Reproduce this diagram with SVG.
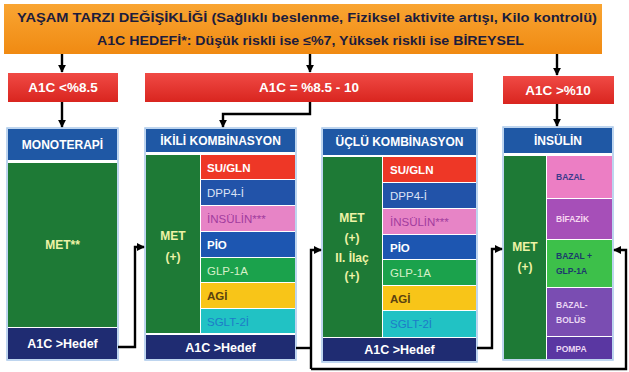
<svg xmlns="http://www.w3.org/2000/svg" width="629" height="372" viewBox="0 0 629 372">
  <defs>
    <linearGradient id="gOrange" x1="0" y1="0" x2="0" y2="1">
      <stop offset="0" stop-color="#F9A532"/>
      <stop offset="1" stop-color="#F08A12"/>
    </linearGradient>
    <linearGradient id="gRed" x1="0" y1="0" x2="0" y2="1">
      <stop offset="0" stop-color="#F04A45"/>
      <stop offset="1" stop-color="#D9251F"/>
    </linearGradient>
    <marker id="arrow" viewBox="0 0 10 10" refX="9" refY="5" markerWidth="3.4" markerHeight="3.4" orient="auto">
      <path d="M0,0 L10,5 L0,10 z" fill="#000"/>
    </marker>
  </defs>
  <style>
    text { font-family: "Liberation Sans", Arial, sans-serif; }
    .ban { font-size: 12.5px; font-weight: bold; fill: #1C1C3C; }
    .red { fill: url(#gRed); }
    .redt { font-size: 13.5px; font-weight: bold; fill: #FFFFFF; text-anchor: middle; }
    .frame { fill: #FFFFFF; stroke: #A9C8EA; stroke-width: 1.5; }
    .head { fill: #1F58A5; }
    .headt { font-size: 12px; font-weight: bold; fill: #FFFFFF; text-anchor: middle; }
    .met { fill: #1E7A36; }
    .mett { font-size: 12px; font-weight: bold; fill: #EEF3A6; text-anchor: middle; }
    .foot { fill: #1F2C72; }
    .foott { font-size: 12.5px; font-weight: bold; fill: #FFFFFF; text-anchor: middle; }
    .cell { font-size: 11.5px; }
    .ins { font-size: 8.5px; font-weight: bold; }
    .conn { fill: none; stroke: #000; stroke-width: 2.4; }
  </style>

  <!-- lifestyle banner -->
  <g id="banner">
    <rect x="4" y="4" width="598" height="50" fill="url(#gOrange)"/>
    <text class="ban" x="17" y="22" textLength="580" lengthAdjust="spacingAndGlyphs">YAŞAM TARZI DEĞİŞİKLİĞİ (Sağlıklı beslenme, Fiziksel aktivite artışı, Kilo kontrolü)</text>
    <text class="ban" x="97" y="45" textLength="427" lengthAdjust="spacingAndGlyphs">A1C HEDEFİ*: Düşük riskli ise ≤%7, Yüksek riskli ise BİREYSEL</text>
  </g>

  <!-- A1C range boxes -->
  <g id="range-low">
    <rect class="red" x="8" y="73" width="110" height="29"/>
    <text class="redt" x="63" y="92">A1C &lt;%8.5</text>
  </g>
  <g id="range-mid">
    <rect class="red" x="145" y="73" width="328" height="29"/>
    <text class="redt" x="309" y="92">A1C = %8.5 - 10</text>
  </g>
  <g id="range-high">
    <rect class="red" x="503" y="76" width="111" height="28"/>
    <text class="redt" x="558" y="95">A1C &gt;%10</text>
  </g>

  <!-- monotherapy column -->
  <g id="monoterapi">
    <rect class="frame" x="7" y="128" width="111" height="232"/>
    <rect class="head" x="8" y="129" width="109" height="31"/>
    <text class="headt" x="62.5" y="149">MONOTERAPİ</text>
    <rect class="met" x="8" y="163" width="109" height="164"/>
    <text class="mett" x="62.5" y="249">MET**</text>
    <rect class="foot" x="8" y="328" width="109" height="31"/>
    <text class="foott" x="62.5" y="348">A1C &gt;Hedef</text>
  </g>

  <!-- dual combination column -->
  <g id="ikili">
    <rect class="frame" x="145" y="128" width="151" height="232"/>
    <rect class="head" x="146" y="129" width="149" height="23"/>
    <text class="headt" x="220.5" y="144.5">İKİLİ KOMBİNASYON</text>
    <rect class="met" x="146" y="155" width="54" height="178"/>
    <text class="mett" x="173" y="240">MET</text>
    <text class="mett" x="173" y="261">(+)</text>
    <rect x="201" y="155" width="94" height="24" fill="#EE3726"/>
    <text class="cell" x="207" y="171.5" font-weight="bold" fill="#FFFFFF">SU/GLN</text>
    <rect x="201" y="180" width="94" height="25" fill="#2253A9"/>
    <text class="cell" x="207" y="197" fill="#DCE2F5">DPP4-İ</text>
    <rect x="201" y="206" width="94" height="25" fill="#E784C6"/>
    <text class="cell" x="207" y="223" fill="#A23C9E">İNSÜLİN***</text>
    <rect x="201" y="232" width="94" height="25" fill="#1D56B1"/>
    <text class="cell" x="207" y="249" font-weight="bold" fill="#FFFFFF">PİO</text>
    <rect x="201" y="258" width="94" height="24" fill="#1BA24C"/>
    <text class="cell" x="207" y="274.5" fill="#D6F0C8">GLP-1A</text>
    <rect x="201" y="283" width="94" height="25" fill="#F8C518"/>
    <text class="cell" x="207" y="300" font-weight="bold" fill="#5A4210">AGİ</text>
    <rect x="201" y="309" width="94" height="24" fill="#21C2C4"/>
    <text class="cell" x="207" y="325.5" fill="#1D7CC8">SGLT-2İ</text>
    <rect class="foot" x="146" y="335" width="149" height="24"/>
    <text class="foott" x="220.5" y="351.5">A1C &gt;Hedef</text>
  </g>

  <!-- triple combination column -->
  <g id="uclu">
    <rect class="frame" x="322" y="128" width="155" height="234"/>
    <rect class="head" x="323" y="129" width="153" height="26"/>
    <text class="headt" x="399.5" y="146">ÜÇLÜ KOMBİNASYON</text>
    <rect class="met" x="323" y="157" width="59" height="180"/>
    <text class="mett" x="352" y="222">MET</text>
    <text class="mett" x="352" y="242">(+)</text>
    <text class="mett" x="352" y="262">II. İlaç</text>
    <text class="mett" x="352" y="280">(+)</text>
    <rect x="383" y="157" width="93" height="25" fill="#EE3726"/>
    <text class="cell" x="390" y="174" font-weight="bold" fill="#FFFFFF">SU/GLN</text>
    <rect x="383" y="183" width="93" height="25" fill="#2253A9"/>
    <text class="cell" x="390" y="200" fill="#DCE2F5">DPP4-İ</text>
    <rect x="383" y="209" width="93" height="25" fill="#E784C6"/>
    <text class="cell" x="390" y="226" fill="#A23C9E">İNSÜLİN***</text>
    <rect x="383" y="235" width="93" height="24" fill="#1D56B1"/>
    <text class="cell" x="390" y="251.5" font-weight="bold" fill="#FFFFFF">PİO</text>
    <rect x="383" y="260" width="93" height="25" fill="#1BA24C"/>
    <text class="cell" x="390" y="277" fill="#D6F0C8">GLP-1A</text>
    <rect x="383" y="286" width="93" height="24" fill="#F8C518"/>
    <text class="cell" x="390" y="302.5" font-weight="bold" fill="#5A4210">AGİ</text>
    <rect x="383" y="311" width="93" height="26" fill="#21C2C4"/>
    <text class="cell" x="390" y="328" fill="#1D7CC8">SGLT-2İ</text>
    <rect class="foot" x="323" y="338" width="153" height="23"/>
    <text class="foott" x="399.5" y="354">A1C &gt;Hedef</text>
  </g>

  <!-- insulin column -->
  <g id="insulin">
    <rect class="frame" x="503" y="127" width="110" height="233"/>
    <rect class="head" x="504" y="128" width="108" height="25"/>
    <text class="headt" x="558" y="145">İNSÜLİN</text>
    <rect class="met" x="504" y="156" width="42" height="203"/>
    <text class="mett" x="525" y="251">MET</text>
    <text class="mett" x="525" y="271">(+)</text>
    <rect x="547" y="156" width="65" height="42" fill="#EC7EC4"/>
    <text class="ins" x="556" y="180" fill="#3B3C8C">BAZAL</text>
    <rect x="547" y="199" width="65" height="40" fill="#A64FB8"/>
    <text class="ins" x="556" y="222" fill="#F6D6F0">BİFAZİK</text>
    <rect x="547" y="240" width="65" height="47" fill="#3DC04A"/>
    <text class="ins" x="556" y="259" fill="#1C3A6C">BAZAL  +</text>
    <text class="ins" x="556" y="274" fill="#1C3A6C">GLP-1A</text>
    <rect x="547" y="288" width="65" height="48" fill="#7A4DB2"/>
    <text class="ins" x="556" y="308" fill="#EAD8F4">BAZAL-</text>
    <text class="ins" x="556" y="323" fill="#EAD8F4">BOLÜS</text>
    <rect x="547" y="337" width="65" height="22" fill="#5A37A2"/>
    <text class="ins" x="556" y="351.5" fill="#EAD8F4">POMPA</text>
  </g>

  <!-- connectors -->
  <g id="connectors">
    <path class="conn" d="M62,54 V72" marker-end="url(#arrow)"/>
    <path class="conn" d="M310,54 V72" marker-end="url(#arrow)"/>
    <path class="conn" d="M557,54 V75" marker-end="url(#arrow)"/>
    <path class="conn" d="M62,102 V127" marker-end="url(#arrow)"/>
    <path class="conn" d="M310,102 V114 H223 V127" marker-end="url(#arrow)"/>
    <path class="conn" d="M557,104 V126" marker-end="url(#arrow)"/>
    <path class="conn" d="M118,347 H135 V247 H144" marker-end="url(#arrow)"/>
    <path class="conn" d="M296,348 H311"/>
    <path class="conn" d="M311,369 V250 H321" marker-end="url(#arrow)"/>
    <path class="conn" d="M311,369 H626 V250 H614" marker-end="url(#arrow)"/>
    <path class="conn" d="M477,348 H492 V249 H502" marker-end="url(#arrow)"/>
  </g>
</svg>
